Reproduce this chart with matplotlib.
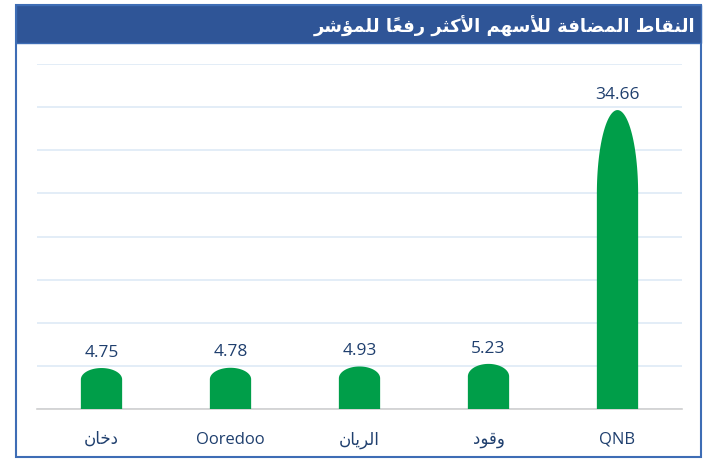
import matplotlib.pyplot as plt
import numpy as np
from matplotlib.patches import PathPatch, Rectangle
from matplotlib.path import Path

# data
title = "النقاط المضافة للأسهم الأكثر رفعاً للمؤشر"
companies = ["دخان", "Ooredoo", "الريان", "وقود", "QNB"]
points = [4.75, 4.78, 4.93, 5.23, 34.66]
y_max = 40
y_step = 5

GREEN = "#009E49"
NAVY = "#2F5597"
TEXT = "#1F3F6E"

# matplotlib has no arabic shaping, so pick presentation forms by hand
_table = [
    ("ء", 0xFE80, 1), ("آ", 0xFE81, 2), ("أ", 0xFE83, 2), ("ؤ", 0xFE85, 2),
    ("إ", 0xFE87, 2), ("ئ", 0xFE89, 4), ("ا", 0xFE8D, 2), ("ب", 0xFE8F, 4),
    ("ة", 0xFE93, 2), ("ت", 0xFE95, 4), ("ث", 0xFE99, 4), ("ج", 0xFE9D, 4),
    ("ح", 0xFEA1, 4), ("خ", 0xFEA5, 4), ("د", 0xFEA9, 2), ("ذ", 0xFEAB, 2),
    ("ر", 0xFEAD, 2), ("ز", 0xFEAF, 2), ("س", 0xFEB1, 4), ("ش", 0xFEB5, 4),
    ("ص", 0xFEB9, 4), ("ض", 0xFEBD, 4), ("ط", 0xFEC1, 4), ("ظ", 0xFEC5, 4),
    ("ع", 0xFEC9, 4), ("غ", 0xFECD, 4), ("ف", 0xFED1, 4), ("ق", 0xFED5, 4),
    ("ك", 0xFED9, 4), ("ل", 0xFEDD, 4), ("م", 0xFEE1, 4), ("ن", 0xFEE5, 4),
    ("ه", 0xFEE9, 4), ("و", 0xFEED, 2), ("ى", 0xFEEF, 2), ("ي", 0xFEF1, 4),
]
FORMS = {c: (start, n) for c, start, n in _table}
LAM_ALEF = {"آ": 0xFEF5, "أ": 0xFEF7, "إ": 0xFEF9, "ا": 0xFEFB}


def shape(text):
    units = []
    i = 0
    while i < len(text):
        ch = text[i]
        if 0x064B <= ord(ch) <= 0x0652 and units:
            units[-1][1] += ch
        elif ch == "ل" and i + 1 < len(text) and text[i + 1] in LAM_ALEF:
            units.append(["LA" + text[i + 1], ""])
            i += 1
        else:
            units.append([ch, ""])
        i += 1

    def dual(u):
        return u in FORMS and FORMS[u][1] == 4

    def arabic(u):
        return u in FORMS or u.startswith("LA")

    out = []
    for k, (base, marks) in enumerate(units):
        prev = k > 0 and dual(units[k - 1][0])
        nxt = dual(base) and k + 1 < len(units) and arabic(units[k + 1][0])
        if base.startswith("LA"):
            g = chr(LAM_ALEF[base[2]] + (1 if prev else 0))
        elif base in FORMS:
            start, n = FORMS[base]
            if n == 4:
                idx = 3 if (prev and nxt) else 1 if prev else 2 if nxt else 0
            elif n == 2:
                idx = 1 if prev else 0
            else:
                idx = 0
            g = chr(start + idx)
        else:
            g = base
        out.append(g + marks)
    return "".join(reversed(out))


def is_rtl(s):
    return any("\u0600" <= c <= "\u06FF" for c in s)


fig = plt.figure(figsize=(7.09, 4.60), dpi=100)

# outer frame and title band
fig.patches.append(Rectangle((16 / 709, 2 / 460), 685 / 709, 452 / 460,
                             transform=fig.transFigure, fill=False,
                             edgecolor="#3E6DB5", linewidth=1.5))
fig.patches.append(Rectangle((16 / 709, 1 - 44 / 460), 685 / 709, 38 / 460,
                             transform=fig.transFigure, facecolor=NAVY,
                             edgecolor="#3E6DB5", linewidth=1.0))
fig.text(695 / 709, 1 - 26 / 460, shape(title), ha="right", va="center",
         color="white", fontsize=13, fontweight="bold",
         family=["DejaVu Sans"])

ax = fig.add_axes([37 / 709, 1 - 410 / 460, 645 / 709, 345 / 460])

x = np.arange(len(companies))
width = 0.32
cap_frac = 0.28
t = np.linspace(np.pi, 0, 60)
for xi, v in zip(x, points):
    c = v * cap_frac
    xs = np.concatenate([[xi - width / 2], xi + width / 2 * np.cos(t), [xi + width / 2]])
    ys = np.concatenate([[0], (v - c) + c * np.sin(t), [0]])
    verts = list(zip(xs, ys)) + [(xs[0], ys[0])]
    codes = [Path.MOVETO] + [Path.LINETO] * (len(verts) - 2) + [Path.CLOSEPOLY]
    ax.add_patch(PathPatch(Path(verts, codes), facecolor=GREEN, edgecolor="none", zorder=3))
    ax.annotate(f"{v:.2f}", (xi, v), xytext=(0, 6), textcoords="offset points",
                ha="center", va="bottom", color=TEXT, fontsize=12.5,
                family=["Open Sans", "DejaVu Sans"])

ax.set_xlim(-0.5, len(companies) - 0.5)
ax.set_ylim(0, y_max)
ax.set_yticks(np.arange(0, y_max + 1, y_step))
ax.grid(axis="y", color="#DEEAF6", linewidth=1.2, zorder=0)
ax.set_axisbelow(True)
ax.tick_params(left=False, bottom=False, labelleft=False)
ax.set_xticks(x)
ax.set_xticklabels([shape(c) if is_rtl(c) else c for c in companies],
                   color=TEXT, fontsize=12, family=["Open Sans", "DejaVu Sans"])
ax.tick_params(axis="x", pad=12)
for s in ["left", "right", "top"]:
    ax.spines[s].set_visible(False)
ax.spines["bottom"].set_color("#D0D0D0")
ax.spines["bottom"].set_linewidth(1.2)

fig.savefig("out.png", dpi=100)
